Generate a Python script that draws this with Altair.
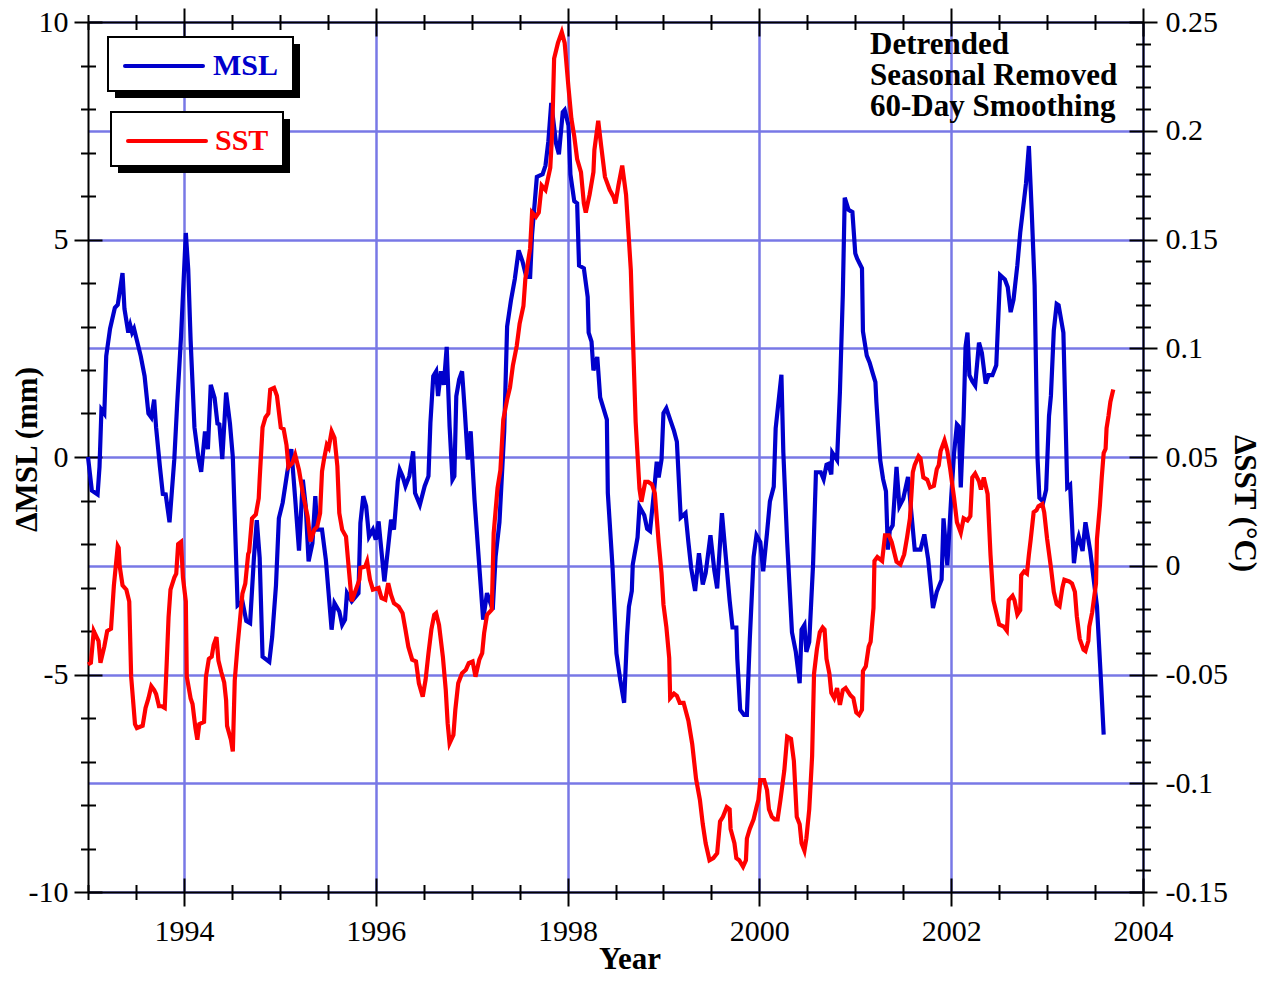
import altair as alt
import pandas as pd

# ---------------- data ----------------
msl_year = [1993.00, 1993.04, 1993.10, 1993.12, 1993.14, 1993.17, 1993.19, 1993.23, 1993.28, 1993.31,
            1993.36, 1993.38, 1993.42, 1993.44, 1993.46, 1993.48, 1993.55, 1993.59, 1993.63, 1993.66,
            1993.69, 1993.71, 1993.75, 1993.78, 1993.81, 1993.85, 1993.90, 1993.93, 1993.97, 1994.02,
            1994.045, 1994.07, 1994.11, 1994.15, 1994.18, 1994.22, 1994.25, 1994.28, 1994.32, 1994.35,
            1994.37, 1994.40, 1994.44, 1994.48, 1994.51, 1994.56, 1994.61, 1994.65, 1994.69, 1994.73,
            1994.76, 1994.79, 1994.82, 1994.89, 1994.92, 1994.96, 1994.99, 1995.03, 1995.08, 1995.12,
            1995.16, 1995.20, 1995.24, 1995.27, 1995.30, 1995.34, 1995.37, 1995.39, 1995.44, 1995.48,
            1995.54, 1995.57, 1995.62, 1995.65, 1995.68, 1995.70, 1995.75, 1995.82, 1995.84, 1995.87,
            1995.90, 1995.93, 1995.97, 1996.00, 1996.03, 1996.05, 1996.09, 1996.13, 1996.16, 1996.19,
            1996.23, 1996.25, 1996.28, 1996.31, 1996.35, 1996.39, 1996.41, 1996.46, 1996.51, 1996.55,
            1996.57, 1996.60, 1996.63, 1996.65, 1996.68, 1996.71, 1996.74, 1996.77, 1996.80, 1996.82,
            1996.84, 1996.87, 1996.90, 1996.93, 1996.96, 1996.99, 1997.03, 1997.08, 1997.12, 1997.16,
            1997.22, 1997.25, 1997.29, 1997.34, 1997.37, 1997.41, 1997.45, 1997.49, 1997.53, 1997.57,
            1997.61, 1997.63, 1997.68, 1997.74, 1997.77, 1997.80, 1997.83, 1997.88, 1997.91, 1997.95,
            1997.97, 1998.01, 1998.03, 1998.07, 1998.10, 1998.12, 1998.17, 1998.21, 1998.22, 1998.25,
            1998.27, 1998.31, 1998.34, 1998.41, 1998.42, 1998.47, 1998.51, 1998.55, 1998.59, 1998.62,
            1998.64, 1998.67, 1998.68, 1998.73, 1998.75, 1998.80, 1998.83, 1998.86, 1998.90, 1998.93,
            1998.95, 1998.98, 1999.00, 1999.03, 1999.07, 1999.11, 1999.14, 1999.18, 1999.23, 1999.26,
            1999.29, 1999.33, 1999.37, 1999.41, 1999.44, 1999.49, 1999.53, 1999.56, 1999.61, 1999.65,
            1999.69, 1999.72, 1999.76, 1999.77, 1999.80, 1999.84, 1999.87, 1999.90, 1999.94, 1999.97,
            2000.01, 2000.04, 2000.08, 2000.11, 2000.15, 2000.17, 2000.23, 2000.25, 2000.29, 2000.34,
            2000.38, 2000.42, 2000.44, 2000.47, 2000.49, 2000.52, 2000.56, 2000.59, 2000.64, 2000.67,
            2000.70, 2000.72, 2000.75, 2000.76, 2000.81, 2000.84, 2000.87, 2000.89, 2000.93, 2000.97,
            2001.00, 2001.02, 2001.07, 2001.08, 2001.12, 2001.15, 2001.18, 2001.21, 2001.22, 2001.26,
            2001.29, 2001.32, 2001.34, 2001.36, 2001.39, 2001.43, 2001.46, 2001.50, 2001.55, 2001.59,
            2001.62, 2001.68, 2001.72, 2001.76, 2001.81, 2001.85, 2001.90, 2001.92, 2001.96, 2002.00,
            2002.03, 2002.06, 2002.08, 2002.10, 2002.13, 2002.15, 2002.17, 2002.19, 2002.22, 2002.25,
            2002.29, 2002.32, 2002.36, 2002.39, 2002.43, 2002.47, 2002.51, 2002.56, 2002.59, 2002.62,
            2002.65, 2002.69, 2002.72, 2002.78, 2002.81, 2002.84, 2002.87, 2002.90, 2002.92, 2002.96,
            2002.99, 2003.02, 2003.04, 2003.07, 2003.10, 2003.12, 2003.17, 2003.21, 2003.24, 2003.28,
            2003.30, 2003.33, 2003.37, 2003.40, 2003.45, 2003.52, 2003.56, 2003.59]
msl_mm = [0.00, -0.77, -0.86, -0.23, 1.09, 1.00, 2.32, 2.95, 3.43, 3.50,
          4.23, 3.41, 2.86, 3.03, 2.86, 2.95, 2.32, 1.86, 1.00, 0.91,
          1.32, 0.68, -0.23, -0.85, -0.86, -1.50, -0.05, 1.23, 2.77, 5.15,
          4.32, 2.68, 0.68, 0.00, -0.34, 0.59, 0.18, 1.66, 1.36, 0.77,
          0.75, -0.05, 1.48, 0.77, 0.00, -3.41, -3.32, -3.77, -3.82, -2.32,
          -1.45, -2.32, -4.59, -4.71, -4.14, -2.95, -1.41, -1.05, -0.32, 0.18,
          -0.95, -2.15, -0.52, -1.13, -2.40, -1.98, -0.90, -1.67, -1.67, -2.36,
          -3.97, -3.36, -3.55, -3.86, -3.74, -3.13, -3.32, -3.13, -1.52, -0.90,
          -1.13, -1.83, -1.67, -1.90, -1.48, -1.94, -2.86, -2.06, -1.44, -1.67,
          -0.56, -0.29, -0.44, -0.67, -0.44, 0.13, -0.83, -1.10, -0.67, -0.44,
          0.78, 1.86, 1.97, 1.40, 1.97, 1.66, 2.53, 0.71, -0.52, -0.44,
          1.40, 1.78, 1.97, 1.01, -0.06, 0.59, -0.98, -2.52, -3.74, -3.13,
          -3.51, -2.29, -1.50, 0.60, 3.00, 3.60, 4.09, 4.75, 4.50, 4.14,
          4.14, 5.11, 6.44, 6.50, 6.70, 7.26, 8.14, 7.21, 6.96, 7.93,
          7.98, 7.62, 6.50, 5.88, 5.83, 4.40, 4.34, 3.68, 2.86, 2.65,
          1.99, 2.30, 1.37, 0.86, -0.83, -2.57, -4.52, -5.13, -5.65, -4.11,
          -3.44, -3.08, -2.47, -1.85, -1.14, -1.34, -1.65, -1.70, -0.83, -0.11,
          -0.47, -0.06, 1.01, 1.12, 0.86, 0.60, 0.35, -1.39, -1.29, -1.96,
          -2.57, -3.08, -2.21, -2.93, -2.67, -1.80, -2.60, -3.02, -1.29, -2.30,
          -3.30, -3.92, -3.92, -4.64, -5.81, -5.93, -5.93, -4.20, -2.30, -1.80,
          -1.96, -2.63, -1.74, -1.02, -0.68, 0.66, 1.89, 0.10, -1.96, -4.03,
          -4.48, -5.20, -3.97, -3.86, -4.48, -4.25, -2.47, -0.35, -0.35, -0.51,
          -0.18, -0.16, -0.40, 0.10, -0.07, 1.50, 3.73, 5.96, 5.68, 5.63,
          4.68, 4.56, 4.34, 2.89, 2.33, 2.17, 1.94, 1.72, 1.27, -0.07,
          -0.51, -0.79, -2.13, -1.69, -1.57, -0.23, -1.13, -0.96, -0.46, -1.41,
          -2.13, -2.13, -1.78, -2.35, -3.47, -3.10, -2.82, -1.41, -2.49, -0.94,
          0.09, 0.75, 0.70, -0.70, 0.94, 2.54, 2.86, 1.88, 1.74, 1.64,
          2.63, 2.39, 1.69, 1.88, 1.88, 2.11, 4.18, 4.08, 3.90, 3.33,
          3.62, 4.41, 5.16, 6.29, 7.15, 5.63, 3.94, 0.00, -0.94, -1.03,
          -0.75, 0.94, 1.41, 2.91, 3.52, 3.49, 2.86, -0.70, -0.64, -2.44,
          -2.07, -1.83, -2.16, -1.50, -2.16, -3.43, -5.07, -6.38]

sst_year = [1993.00, 1993.03, 1993.06, 1993.11, 1993.13, 1993.17, 1993.20, 1993.24, 1993.27, 1993.31,
            1993.32, 1993.33, 1993.36, 1993.40, 1993.43, 1993.45, 1993.49, 1993.51, 1993.57, 1993.60,
            1993.63, 1993.66, 1993.69, 1993.71, 1993.74, 1993.77, 1993.80, 1993.82, 1993.84, 1993.86,
            1993.90, 1993.92, 1993.94, 1993.97, 1993.99, 1994.02, 1994.03, 1994.07, 1994.09, 1994.12,
            1994.14, 1994.16, 1994.21, 1994.23, 1994.26, 1994.29, 1994.31, 1994.34, 1994.36, 1994.39,
            1994.42, 1994.44, 1994.45, 1994.49, 1994.51, 1994.53, 1994.56, 1994.58, 1994.61, 1994.64,
            1994.67, 1994.68, 1994.71, 1994.75, 1994.78, 1994.79, 1994.82, 1994.85, 1994.88, 1994.90,
            1994.94, 1994.97, 1995.01, 1995.04, 1995.07, 1995.09, 1995.13, 1995.16, 1995.20, 1995.24,
            1995.29, 1995.32, 1995.36, 1995.39, 1995.42, 1995.44, 1995.46, 1995.49, 1995.51, 1995.54,
            1995.57, 1995.60, 1995.62, 1995.65, 1995.69, 1995.72, 1995.75, 1995.78, 1995.83, 1995.84,
            1995.89, 1995.91, 1995.94, 1995.97, 1996.03, 1996.06, 1996.10, 1996.13, 1996.16, 1996.19,
            1996.24, 1996.28, 1996.31, 1996.34, 1996.38, 1996.42, 1996.45, 1996.49, 1996.52, 1996.55,
            1996.58, 1996.61, 1996.63, 1996.66, 1996.70, 1996.73, 1996.75, 1996.77, 1996.81, 1996.83,
            1996.86, 1996.90, 1996.94, 1996.97, 1997.01, 1997.04, 1997.08, 1997.11, 1997.13, 1997.16,
            1997.21, 1997.23, 1997.27, 1997.30, 1997.33, 1997.37, 1997.40, 1997.43, 1997.47, 1997.50,
            1997.54, 1997.56, 1997.61, 1997.63, 1997.67, 1997.70, 1997.73, 1997.77, 1997.82, 1997.84,
            1997.86, 1997.90, 1997.94, 1997.97, 1998.01, 1998.04, 1998.07, 1998.10, 1998.14, 1998.17,
            1998.19, 1998.23, 1998.27, 1998.28, 1998.32, 1998.35, 1998.39, 1998.44, 1998.48, 1998.50,
            1998.53, 1998.57, 1998.61, 1998.66, 1998.68, 1998.71, 1998.75, 1998.77, 1998.81, 1998.84,
            1998.88, 1998.91, 1998.95, 1998.98, 1999.00, 1999.03, 1999.06, 1999.07, 1999.11, 1999.14,
            1999.17, 1999.21, 1999.26, 1999.30, 1999.34, 1999.38, 1999.41, 1999.44, 1999.48, 1999.52,
            1999.56, 1999.59, 1999.62, 1999.66, 1999.69, 1999.70, 1999.74, 1999.76, 1999.79, 1999.83,
            1999.86, 1999.87, 1999.90, 1999.94, 1999.97, 1999.99, 2000.01, 2000.05, 2000.08, 2000.10,
            2000.13, 2000.16, 2000.19, 2000.22, 2000.26, 2000.29, 2000.33, 2000.36, 2000.39, 2000.42,
            2000.44, 2000.47, 2000.49, 2000.52, 2000.55, 2000.57, 2000.60, 2000.63, 2000.66, 2000.68,
            2000.70, 2000.73, 2000.75, 2000.78, 2000.81, 2000.84, 2000.87, 2000.90, 2000.95, 2000.98,
            2001.01, 2001.04, 2001.07, 2001.08, 2001.11, 2001.14, 2001.16, 2001.19, 2001.20, 2001.23,
            2001.28, 2001.31, 2001.35, 2001.38, 2001.43, 2001.47, 2001.51, 2001.54, 2001.57, 2001.60,
            2001.62, 2001.66, 2001.68, 2001.71, 2001.75, 2001.78, 2001.82, 2001.85, 2001.87, 2001.89,
            2001.93, 2001.96, 2001.99, 2002.03, 2002.06, 2002.10, 2002.13, 2002.17, 2002.20, 2002.22,
            2002.25, 2002.29, 2002.31, 2002.34, 2002.38, 2002.41, 2002.44, 2002.50, 2002.55, 2002.58,
            2002.60, 2002.64, 2002.66, 2002.69, 2002.72, 2002.73, 2002.76, 2002.79, 2002.81, 2002.83,
            2002.86, 2002.89, 2002.91, 2002.95, 2002.97, 2003.00, 2003.04, 2003.07, 2003.10, 2003.13,
            2003.16, 2003.18, 2003.23, 2003.26, 2003.29, 2003.31, 2003.34, 2003.38, 2003.40, 2003.43,
            2003.44, 2003.47, 2003.51, 2003.52, 2003.55, 2003.57, 2003.59, 2003.61, 2003.62, 2003.64,
            2003.66, 2003.69]
sst_degc = [-0.0454, -0.0446, -0.0300, -0.0346, -0.0446, -0.0372, -0.0300, -0.0290, -0.0090, 0.0090,
            0.0082, 0.0000, -0.0090, -0.0110, -0.0164, -0.0510, -0.0728, -0.0746, -0.0736, -0.0654,
            -0.0610, -0.0554, -0.0572, -0.0590, -0.0646, -0.0646, -0.0654, -0.0454, -0.0236, -0.0110,
            -0.0054, -0.0036, 0.0100, 0.0110, -0.0054, -0.0164, -0.0510, -0.0610, -0.0636, -0.0746,
            -0.0800, -0.0728, -0.0718, -0.0510, -0.0428, -0.0418, -0.0364, -0.0328, -0.0436, -0.0490,
            -0.0536, -0.0618, -0.0736, -0.0800, -0.0854, -0.0528, -0.0364, -0.0272, -0.0128, -0.0082,
            0.0054, 0.0064, 0.0218, 0.0236, 0.0310, 0.0400, 0.0636, 0.0682, 0.0700, 0.0810,
            0.0818, 0.0782, 0.0636, 0.0628, 0.0554, 0.0454, 0.0472, 0.0510, 0.0440, 0.0334,
            0.0226, 0.0112, 0.0166, 0.0180, 0.0242, 0.0434, 0.0488, 0.0556, 0.0542, 0.0618,
            0.0588, 0.0458, 0.0242, 0.0166, 0.0134, -0.0018, -0.0164, -0.0126, -0.0064, -0.0010,
            -0.0004, 0.0020, -0.0064, -0.0110, -0.0102, -0.0148, -0.0156, -0.0080, -0.0134, -0.0172,
            -0.0188, -0.0218, -0.0294, -0.0372, -0.0432, -0.0440, -0.0540, -0.0602, -0.0524, -0.0402,
            -0.0294, -0.0226, -0.0218, -0.0272, -0.0418, -0.0570, -0.0724, -0.0816, -0.0778, -0.0662,
            -0.0540, -0.0494, -0.0478, -0.0448, -0.0440, -0.0510, -0.0432, -0.0402, -0.0310, -0.0226,
            -0.0202, 0.0150, 0.0358, 0.0440, 0.0672, 0.0764, 0.0820, 0.0920, 0.1010, 0.1112,
            0.1194, 0.1318, 0.1460, 0.1624, 0.1604, 0.1624, 0.1748, 0.1728, 0.1830, 0.1994,
            0.2332, 0.2404, 0.2454, 0.2404, 0.2198, 0.2056, 0.1974, 0.1870, 0.1810, 0.1666,
            0.1624, 0.1706, 0.1810, 0.1912, 0.2046, 0.1932, 0.1788, 0.1728, 0.1696, 0.1666,
            0.1748, 0.1840, 0.1706, 0.1358, 0.1072, 0.0662, 0.0354, 0.0294, 0.0386, 0.0386,
            0.0374, 0.0334, 0.0108, -0.0034, -0.0178, -0.0280, -0.0424, -0.0608, -0.0588, -0.0598,
            -0.0630, -0.0630, -0.0712, -0.0820, -0.0980, -0.1076, -0.1188, -0.1276, -0.1354, -0.1344,
            -0.1322, -0.1176, -0.1154, -0.1110, -0.1120, -0.1210, -0.1276, -0.1344, -0.1354, -0.1384,
            -0.1354, -0.1254, -0.1210, -0.1166, -0.1110, -0.1076, -0.0986, -0.0986, -0.1032, -0.1120,
            -0.1154, -0.1166, -0.1166, -0.1076, -0.0942, -0.0786, -0.0796, -0.0898, -0.1154, -0.1188,
            -0.1276, -0.1310, -0.1254, -0.1120, -0.0876, -0.0496, -0.0384, -0.0306, -0.0284, -0.0294,
            -0.0428, -0.0496, -0.0584, -0.0608, -0.0562, -0.0640, -0.0572, -0.0562, -0.0596, -0.0608,
            -0.0674, -0.0686, -0.0662, -0.0484, -0.0462, -0.0372, -0.0350, -0.0194, 0.0022, 0.0040,
            0.0022, 0.0140, 0.0140, 0.0108, 0.0018, 0.0006, 0.0052, 0.0130, 0.0218, 0.0430,
            0.0464, 0.0504, 0.0494, 0.0406, 0.0396, 0.0360, 0.0368, 0.0444, 0.0462, 0.0528,
            0.0576, 0.0528, 0.0444, 0.0312, 0.0200, 0.0152, 0.0218, 0.0208, 0.0228, 0.0406,
            0.0424, 0.0388, 0.0350, 0.0406, 0.0330, 0.0050, -0.0158, -0.0270, -0.0280, -0.0298,
            -0.0158, -0.0138, -0.0158, -0.0224, -0.0204, -0.0044, -0.0026, -0.0036, 0.0050, 0.0124,
            0.0246, 0.0256, 0.0274, 0.0284, 0.0246, 0.0124, -0.0008, -0.0120, -0.0176, -0.0186,
            -0.0100, -0.0064, -0.0072, -0.0082, -0.0120, -0.0232, -0.0336, -0.0386, -0.0392, -0.0346,
            -0.0280, -0.0214, -0.0082, 0.0124, 0.0274, 0.0406, 0.0518, 0.0538, 0.0632, 0.0688,
            0.0754, 0.0810]

series_names = ["MSL", "SST"]
annotation_lines = ["Detrended", "Seasonal Removed", "60-Day Smoothing"]

x_major = [1994, 1996, 1998, 2000, 2002, 2004]
x_minor = [1993 + 0.5 * k for k in range(23) if (1993 + 0.5 * k) % 2 != 0]
y_major = [-10, -5, 0, 5, 10]
y_minor = [v for v in range(-10, 11) if v % 5 != 0]
sst_major = [-0.15, -0.1, -0.05, 0, 0.05, 0.1, 0.15, 0.2, 0.25]
sst_minor = [round(k / 100, 2) for k in range(-15, 26) if k % 5 != 0]

# ---------------- styling ----------------
FONT = "Liberation Serif"
BLUE = "#0000cc"
RED = "#ff0000"
GRID = "#7878e6"
MAJ = 14
MIN = 7.5
LINE_W = 4.2

msl_df = pd.DataFrame({"year": msl_year, "msl": msl_mm})
sst_df = pd.DataFrame({"year": sst_year, "sst": sst_degc})

xs = alt.Scale(domain=[1993, 2004], nice=False, zero=False)
ms = alt.Scale(domain=[-10, 10], nice=False, zero=False)
ss = alt.Scale(domain=[-0.15, 0.25], nice=False, zero=False)

label_style = dict(labels=True, labelFont=FONT, labelFontSize=30, labelColor="black",
                   labelExpr="'' + datum.value", labelOverlap=False, labelFlush=False)
domain_style = dict(domain=True, domainColor="black", domainWidth=2)
title_style = dict(titleFont=FONT, titleFontSize=31, titleFontWeight="bold", titleColor="black",
                   titleBaseline="alphabetic", titleAlign="center")
grid_style = dict(grid=True, gridColor=GRID, gridWidth=2.5)


def axis(orient, values, size, inward=False, **extra):
    props = dict(orient=orient, values=values, tickSize=size, tickWidth=2, tickColor="black",
                 domain=False, labels=False, grid=False, title=None)
    if inward:
        props["offset"] = -size
    props.update(extra)
    return alt.Axis(**props)


def xenc(ax):
    return alt.X("year:Q", scale=xs, axis=ax)


def ymsl(ax):
    return alt.Y("msl:Q", scale=ms, axis=ax)


def ysst(ax):
    return alt.Y("sst:Q", scale=ss, axis=ax)


# invisible layers that only carry extra tick marks (ticks crossing the frame)
g3 = alt.Chart(msl_df).mark_line(opacity=0).encode(
    x=xenc(axis("bottom", x_major, MAJ, inward=True)),
    y=ymsl(axis("left", y_major, MAJ, inward=True)))
g4 = alt.Chart(msl_df).mark_line(opacity=0).encode(
    x=xenc(axis("bottom", x_minor, MIN, inward=True)),
    y=ymsl(axis("left", y_minor, MIN)))
g5 = alt.Chart(msl_df).mark_line(opacity=0).encode(
    x=xenc(axis("top", x_major, MAJ, **domain_style)),
    y=ymsl(axis("left", y_minor, MIN, inward=True)))
g6 = alt.Chart(sst_df).mark_line(opacity=0).encode(
    x=xenc(axis("top", x_major, MAJ, inward=True)),
    y=ysst(axis("right", sst_major, MAJ, inward=True)))
g7 = alt.Chart(sst_df).mark_line(opacity=0).encode(
    x=xenc(axis("top", x_minor, MIN)),
    y=ysst(axis("right", sst_minor, MIN)))
g8 = alt.Chart(sst_df).mark_line(opacity=0).encode(
    x=xenc(axis("top", x_minor, MIN, inward=True)),
    y=ysst(axis("right", sst_minor, MIN, inward=True)))

# visible data lines
msl_line = alt.Chart(msl_df).mark_line(color=BLUE, strokeWidth=LINE_W).encode(
    x=xenc(axis("bottom", x_major, MAJ, labelPadding=10, title="Year", titleX=541.5, titleY=76,
                **label_style, **domain_style, **title_style, **grid_style)),
    y=ymsl(axis("left", y_major, MAJ, labelPadding=6, title="ΔMSL (mm)", titleAngle=270,
                titleX=-52, titleY=427, **label_style, **domain_style, **title_style)))
sst_line = alt.Chart(sst_df).mark_line(color=RED, strokeWidth=LINE_W).encode(
    x=xenc(axis("bottom", x_minor, MIN)),
    y=ysst(axis("right", sst_major, MAJ, labelPadding=8, title="ΔSST (°C)", titleAngle=90,
                titleX=91, titleY=481, **label_style, **domain_style, **title_style, **grid_style)))


# legend boxes and annotation (decoration, placed in pixels of the plot area)
def deco():
    return alt.Chart(alt.Data(values=[{"k": 0}]))


def legend_entry(name, color, left, top, right, bottom, line_y, text_x, text_y):
    shadow = deco().mark_rect(color="black").encode(
        x=alt.value(left + 7), x2=alt.value(right + 7), y=alt.value(top + 7), y2=alt.value(bottom + 7))
    box = deco().mark_rect(fill="white", stroke="black", strokeWidth=2).encode(
        x=alt.value(left), x2=alt.value(right), y=alt.value(top), y2=alt.value(bottom))
    sample = deco().mark_rule(color=color, strokeWidth=4, strokeCap="round").encode(
        x=alt.value(left + 17), x2=alt.value(left + 95), y=alt.value(line_y))
    label = deco().mark_text(text=name, color=color, font=FONT, fontSize=30, fontWeight="bold",
                             align="left", baseline="alphabetic").encode(
        x=alt.value(text_x), y=alt.value(text_y))
    return [shadow, box, sample, label]


leg_msl = legend_entry(series_names[0], BLUE, 20, 15, 205, 69, 44, 125, 53)
leg_sst = legend_entry(series_names[1], RED, 23, 90, 195, 144, 119, 127, 128)

note = deco().mark_text(text=annotation_lines, font=FONT, fontSize=31, fontWeight="bold",
                        color="black", align="left", baseline="alphabetic", lineHeight=31).encode(
    x=alt.value(782), y=alt.value(32))

chart = alt.layer(
    g3, g4, g5, g6, g7, g8, msl_line, sst_line, *leg_msl, *leg_sst, note
).properties(
    width=1055, height=870,
    autosize=alt.AutoSizeParams(type="none"),
    padding={"left": 80, "top": 14, "right": 118, "bottom": 83},
).resolve_scale(
    y="independent"
).resolve_axis(
    x="independent", y="independent"
).configure_view(stroke=None)

chart.save("out.html", embed_options={"renderer": "svg", "actions": False})
